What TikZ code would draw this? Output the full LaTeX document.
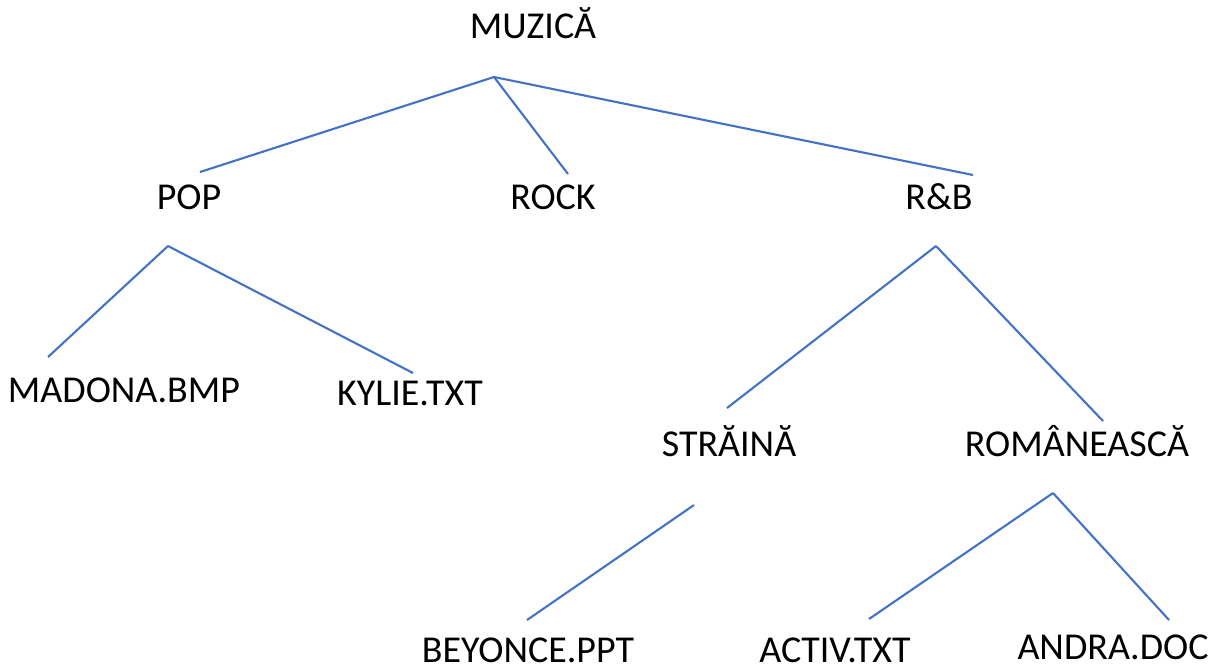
\documentclass[tikz,border=0pt]{standalone}
\usepackage{fontspec}
\setmainfont{Carlito}
\definecolor{linkblue}{HTML}{4472C4}

\begin{document}
\begin{tikzpicture}[
    x=0.01cm, y=-0.01cm,
    entry/.style={font=\fontsize{10.8}{13}\selectfont, inner sep=0pt, anchor=base},
    branch/.style={draw=linkblue, line width=0.6pt}
]
    \useasboundingbox (0,0) rectangle (1222,669);

    % nivelul 1
    \node [entry] (muzica) at (533,38) {MUZICĂ};
    % nivelul 2
    \node [entry] (pop) at (189,209) {POP};
    \node [entry] (rock) at (553,209) {ROCK};
    \node [entry] (rnb) at (939,209) {R\&B};
    % nivelul 3
    \node [entry] (madona) at (124,402) {MADONA.BMP};
    \node [entry] (kylie) at (410,405) {KYLIE.TXT};
    \node [entry] (straina) at (729,456) {STRĂINĂ};
    \node [entry] (romana) at (1077,456) {ROMÂNEASCĂ};
    % nivelul 4
    \node [entry] (beyonce) at (528,662) {BEYONCE.PPT};
    \node [entry] (activ) at (835,662) {ACTIV.TXT};
    \node [entry] (andra) at (1113,659) {ANDRA.DOC};

    % capete de ramuri
    \coordinate (muzica-j) at (494,77);
    \coordinate (pop-t) at (200,172);
    \coordinate (rock-t) at (568,174);
    \coordinate (rnb-t) at (973,175);
    \coordinate (pop-j) at (168,246);
    \coordinate (madona-t) at (48,357);
    \coordinate (kylie-t) at (413,373);
    \coordinate (rnb-j) at (936,246);
    \coordinate (straina-t) at (727,408);
    \coordinate (romana-t) at (1103,421);
    \coordinate (straina-j) at (694,505);
    \coordinate (beyonce-t) at (527,620);
    \coordinate (romana-j) at (1053,493);
    \coordinate (activ-t) at (869,619);
    \coordinate (andra-t) at (1169,620);

    % ramuri
    \draw [branch] (muzica-j) -- (pop-t);
    \draw [branch] (muzica-j) -- (rock-t);
    \draw [branch] (muzica-j) -- (rnb-t);
    \draw [branch] (pop-j) -- (madona-t);
    \draw [branch] (pop-j) -- (kylie-t);
    \draw [branch] (rnb-j) -- (straina-t);
    \draw [branch] (rnb-j) -- (romana-t);
    \draw [branch] (straina-j) -- (beyonce-t);
    \draw [branch] (romana-j) -- (activ-t);
    \draw [branch] (romana-j) -- (andra-t);
\end{tikzpicture}
\end{document}
